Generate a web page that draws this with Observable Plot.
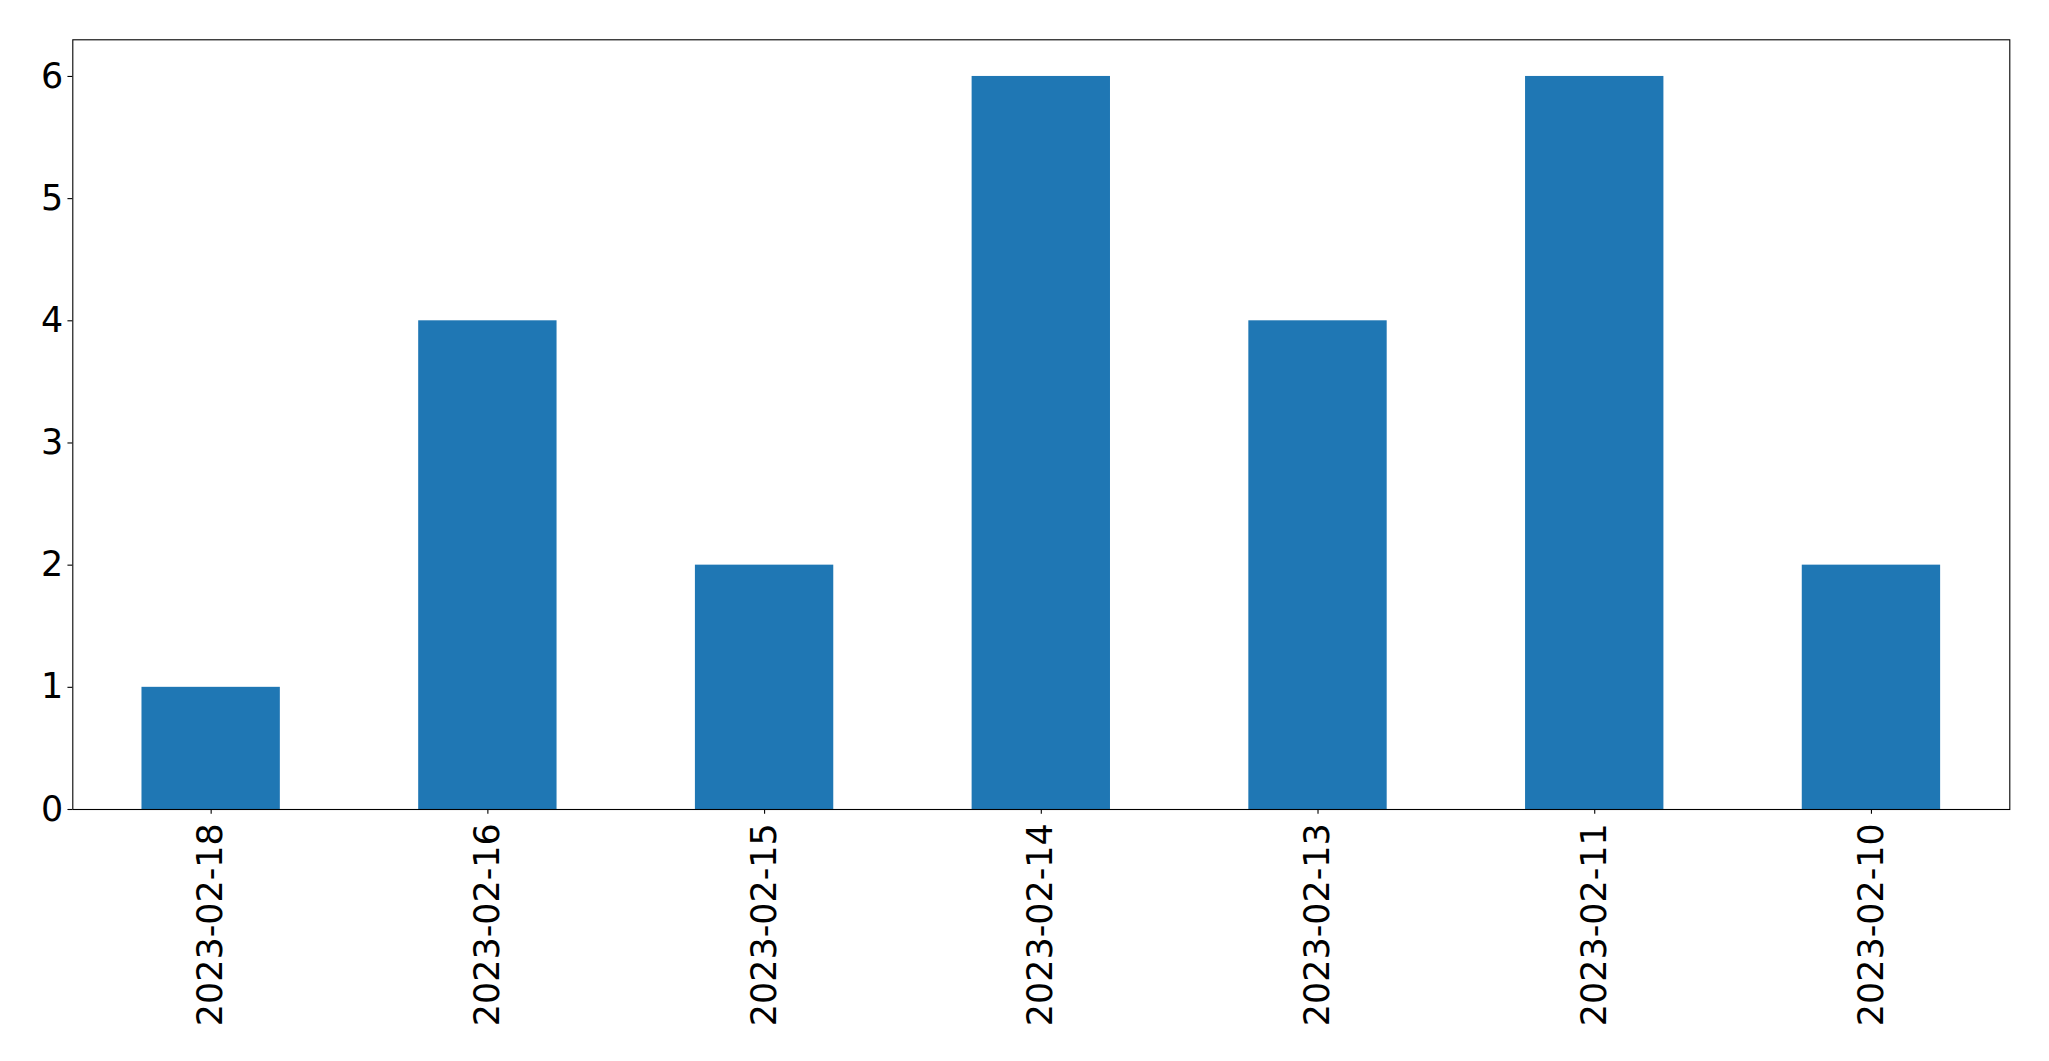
<!DOCTYPE html>
<html>
<head>
<meta charset="utf-8">
<script src="https://cdn.jsdelivr.net/npm/d3@7"></script>
<script src="https://cdn.jsdelivr.net/npm/@observablehq/plot@0.6"></script>
<style>
  html, body { margin: 0; padding: 0; background: #fff; }
  #chart svg { display: block; }
</style>
</head>
<body>
<div id="chart"></div>
<script>
const dates = ["2023-02-18", "2023-02-16", "2023-02-15", "2023-02-14", "2023-02-13", "2023-02-11", "2023-02-10"];
const counts = [1, 4, 2, 6, 4, 6, 2];
const yTicks = [0, 1, 2, 3, 4, 5, 6];

const data = dates.map((d, i) => ({date: d, count: counts[i]}));

const fontSize = 34.9;
const tick = 4.86;

const chart = Plot.plot({
  width: 2049,
  height: 1061,
  marginLeft: 72.3,
  marginRight: 39.7,
  marginTop: 39.3,
  marginBottom: 252,
  style: {fontFamily: "DejaVu Sans", background: "#fff", color: "#000"},
  x: {type: "band", domain: dates, paddingInner: 0.5, paddingOuter: 0.25, round: false},
  y: {domain: [0, 6.3]},
  marks: [
    Plot.barY(data, {x: "date", y: "count", fill: "#1f77b4"}),
    Plot.frame({stroke: "#000", strokeWidth: 1.1}),
    Plot.axisY({ticks: yTicks, tickSize: tick, tickPadding: tick, fontSize: fontSize, label: null, tickFormat: d => String(d), strokeWidth: 1.1}),
    Plot.axisX({tickSize: tick, tickPadding: 9, tickRotate: -90, fontSize: fontSize, label: null, strokeWidth: 1.1})
  ]
});
document.getElementById("chart").appendChild(chart);
</script>
</body>
</html>
